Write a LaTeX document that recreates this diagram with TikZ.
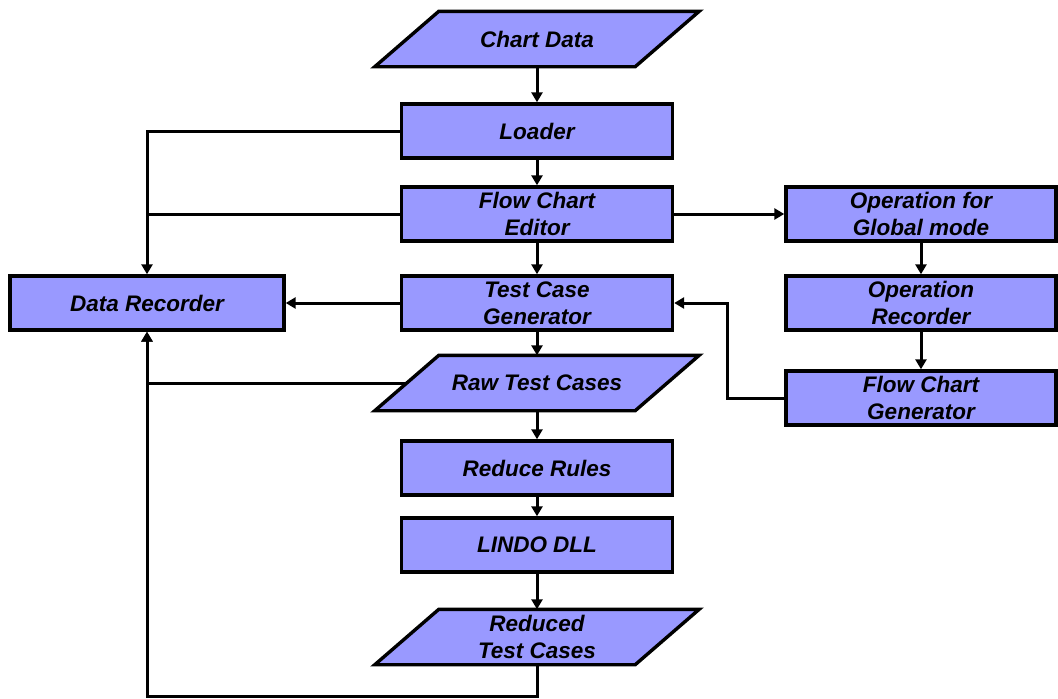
\documentclass[tikz,border=0pt]{standalone}
\usepackage{fontspec}
\setmainfont{Liberation Sans}
\usetikzlibrary{arrows.meta,calc}
\definecolor{boxfill}{RGB}{153,153,255}
\tikzset{
  base/.style={font=\fontsize{22.5}{27}\selectfont\bfseries\itshape, align=center, inner sep=0pt},
  procbox/.style={base, draw=black, fill=boxfill, line width=3.4pt, minimum width=271pt, minimum height=54pt},
  iobox/.style={base, minimum width=260pt, minimum height=55pt},
  arr/.style={line width=3pt, -{Triangle[length=10pt,width=11pt]}},
  ln/.style={line width=3pt},
}
\newcommand{\ioshape}[1]{%
  \draw[line width=3.4pt, fill=boxfill, line join=miter]
    ($(#1.north west)+(32pt,0)$) -- ($(#1.north east)+(32pt,0)$) --
    ($(#1.south east)+(-32pt,0)$) -- ($(#1.south west)+(-32pt,0)$) -- cycle;}
\begin{document}
\begin{tikzpicture}[x=1pt,y=-1pt]
\useasboundingbox (0,0) rectangle (1058,699);

% input / output shapes: invisible nodes carry text and anchors
\path node[iobox] (chart) at (537,39) {};
\ioshape{chart}
\node[iobox] at (chart) {Chart Data};

\path node[iobox] (raw) at (537,383) {};
\ioshape{raw}
\node[iobox] at (raw) {Raw Test Cases};

\path node[iobox] (reduced) at (537,637) {};
\ioshape{reduced}
\node[iobox] at (reduced) {Reduced\\Test Cases};

% process boxes
\node[procbox] (loader)  at (537,131) {Loader};
\node[procbox] (fce)     at (537,214) {Flow Chart\\Editor};
\node[procbox] (tcg)     at (537,303) {Test Case\\Generator};
\node[procbox] (reduce)  at (537,468) {Reduce Rules};
\node[procbox] (lindo)   at (537,545) {LINDO DLL};
\node[procbox, minimum width=274pt] (datarec) at (147,303) {Data Recorder};
\node[procbox, minimum width=270pt] (ogm)  at (921,214) {Operation for\\Global mode};
\node[procbox, minimum width=270pt] (orec) at (921,303) {Operation\\Recorder};
\node[procbox, minimum width=270pt] (fcg)  at (921,398) {Flow Chart\\Generator};

% main chain
\draw[arr] (chart) -- (loader);
\draw[arr] (loader) -- (fce);
\draw[arr] (fce) -- (tcg);
\draw[arr] (tcg) -- (raw);
\draw[arr] (raw) -- (reduce);
\draw[arr] (reduce) -- (lindo);
\draw[arr] (lindo) -- (reduced);

% into the data recorder
\draw[arr] (loader.west) -| (datarec.north);
\draw[ln] (fce.west) -- (datarec.north |- fce.west);
\draw[arr] (tcg.west) -- (datarec.east);
\draw[arr] (raw.west) -| (datarec.south);
\draw[arr] (reduced.south) -- ++(0,32) -| (datarec.south);

% global mode branch
\draw[arr] (fce.east) -- (ogm.west);
\draw[arr] (ogm) -- (orec);
\draw[arr] (orec) -- (fcg);
\draw[arr] (fcg.west) -- ++(-57,0) |- (tcg.east);
\end{tikzpicture}
\end{document}
